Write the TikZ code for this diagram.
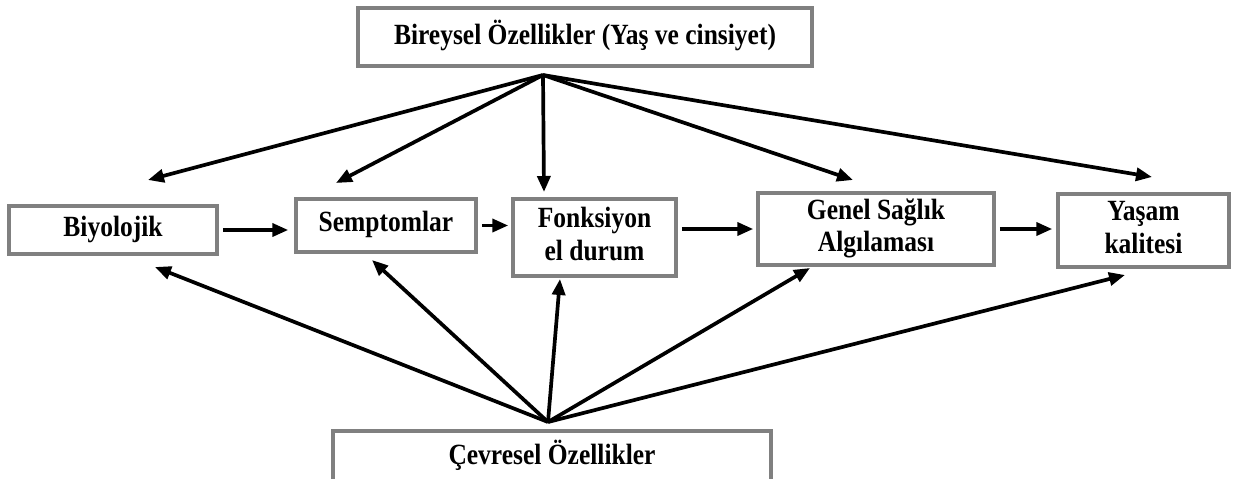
\documentclass[tikz,border=0pt]{standalone}
\usepackage{fontspec}
\setmainfont{Liberation Serif}
\usetikzlibrary{arrows.meta}
\newcommand{\sttext}[1]{\scalebox{1}[1.15]{\begin{tabular}{@{}c@{}}#1\end{tabular}}}
\begin{document}
\begin{tikzpicture}[x=1pt,y=-1pt,
  box/.style={draw=black!50,line width=3.5pt,fill=white,inner sep=0pt,align=center,
    font=\fontsize{25.5}{28}\selectfont\bfseries},
  arr/.style={line width=3.7pt,-{Triangle[length=16pt,width=13pt]}},
]
\useasboundingbox (0,0) rectangle (1237,479);
\node[box,minimum width=454pt,minimum height=58pt] (top) at (585,37) {\sttext{Bireysel Özellikler (Yaş ve cinsiyet)}};
\node[box,minimum width=208pt,minimum height=48pt] (bio) at (113,230) {\sttext{Biyolojik}};
\node[box,minimum width=180pt,minimum height=53pt] (semp) at (386,225.5) {\sttext{Semptomlar}};
\node[box,minimum width=163pt,minimum height=77pt] (fonk) at (594.5,237.5) {\sttext{Fonksiyon\\el durum}};
\node[box,minimum width=236pt,minimum height=72pt] (genel) at (876,229) {\sttext{Genel Sağlık\\Algılaması}};
\node[box,minimum width=171pt,minimum height=73pt] (yasam) at (1143.5,230.5) {\sttext{Yaşam\\kalitesi}};
\node[box,minimum width=438pt,minimum height=52pt] (cevre) at (552,457) {\sttext{Çevresel Özellikler}};

\coordinate (ta) at (543,75);
\coordinate (ba) at (548,422);
\coordinate (t1) at (148,180);
\coordinate (t2) at (336,183);
\coordinate (t3) at (544,192);
\coordinate (t4) at (853,180);
\coordinate (t5) at (1152,177);
\coordinate (b1) at (155,267);
\coordinate (b2) at (372,260);
\coordinate (b3) at (560,279);
\coordinate (b4) at (810,268);
\coordinate (b5) at (1125,275);

\foreach \t in {t1,t2,t3,t4,t5} \draw[arr] (ta) -- (\t);
\foreach \b in {b1,b2,b3,b4,b5} \draw[arr] (ba) -- (\b);

\draw[arr] ([xshift=4pt]bio.east) -- ([xshift=-6pt]bio.east -| semp.west);
\draw[arr] ([xshift=4pt]semp.east) -- ([xshift=-3pt]semp.east -| fonk.west);
\draw[arr] ([xshift=4pt]fonk.east |- genel.west) -- ([xshift=-3pt]genel.west);
\draw[arr] ([xshift=4pt]genel.east) -- ([xshift=-4pt]genel.east -| yasam.west);
\end{tikzpicture}
\end{document}
